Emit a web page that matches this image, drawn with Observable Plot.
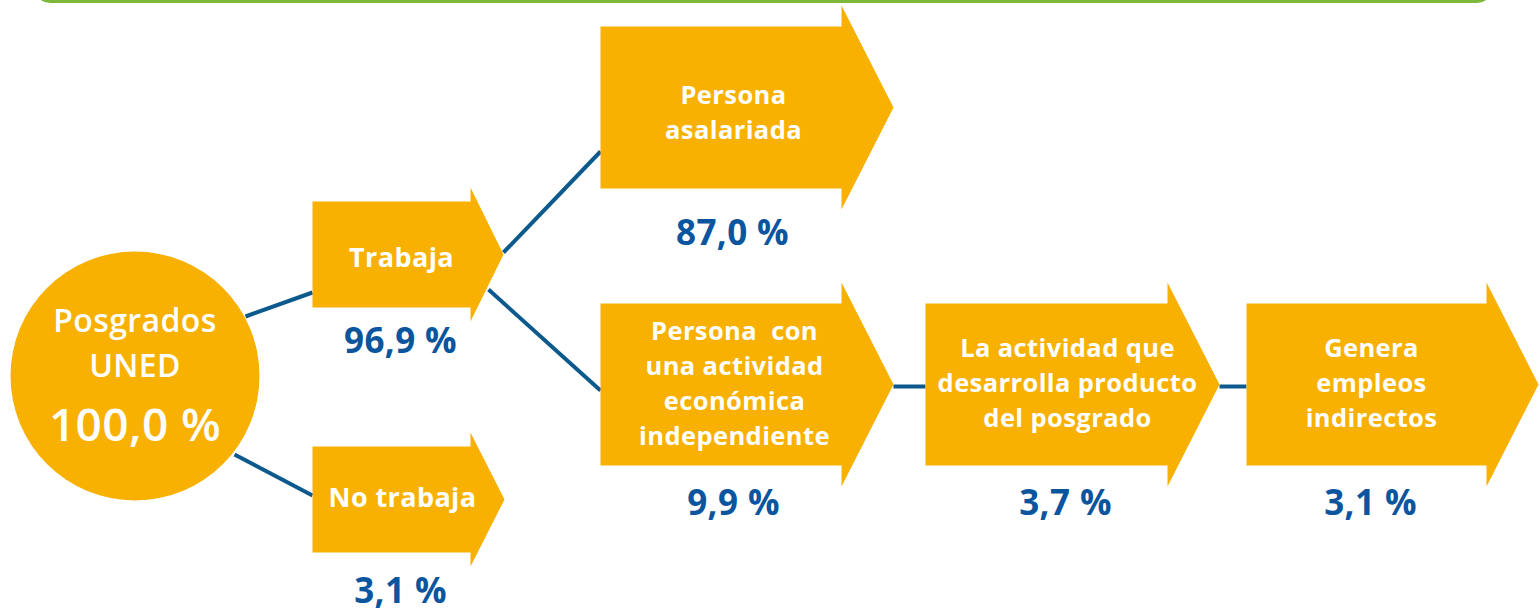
<!DOCTYPE html>
<html>
<head>
<meta charset="utf-8">
<script src="https://cdn.jsdelivr.net/npm/d3@7"></script>
<script src="https://cdn.jsdelivr.net/npm/@observablehq/plot@0.6"></script>
<style>
  html, body { margin: 0; padding: 0; background: #ffffff; }
  #chart svg { display: block; }
</style>
</head>
<body>
<div id="chart"></div>
<script>
// ---- Data ----
const nodeIds = ["total", "trabaja", "noTrabaja", "asalariada", "independiente", "producto", "empleos"];
const nodeLabels = [
  "Posgrados\nUNED",
  "Trabaja",
  "No trabaja",
  "Persona\nasalariada",
  "Persona  con\nuna actividad\neconómica\nindependiente",
  "La actividad que\ndesarrolla producto\ndel posgrado",
  "Genera\nempleos\nindirectos"
];
const nodeValues = [100.0, 96.9, 3.1, 87.0, 9.9, 3.7, 3.1];
const linkSources = ["total", "total", "trabaja", "trabaja", "independiente", "producto"];
const linkTargets = ["trabaja", "noTrabaja", "asalariada", "independiente", "producto", "empleos"];

// ---- Layout (pixel coordinates of the diagram) ----
const circleLayout = {cx: 134.5, cy: 375.5, r: 124.5, labelY: 340, valueY: 426};
const boxLayout = {
  trabaja:       {x0: 312, x1: 470, y0: 201, y1: 307, flare: 14, tip: 503, tx: 401, ty: 258, vx: 400, vy: 341},
  noTrabaja:     {x0: 312, x1: 470, y0: 446, y1: 552, flare: 14, tip: 504, tx: 402, ty: 498, vx: 400, vy: 591},
  asalariada:    {x0: 600, x1: 841, y0: 26,  y1: 188, flare: 21, tip: 893, tx: 733, ty: 110, vx: 732, vy: 233},
  independiente: {x0: 600, x1: 841, y0: 303, y1: 465, flare: 21, tip: 893, tx: 734, ty: 381, vx: 733, vy: 503},
  producto:      {x0: 925, x1: 1167, y0: 303, y1: 465, flare: 21, tip: 1219, tx: 1067, ty: 380, vx: 1065, vy: 503},
  empleos:       {x0: 1246, x1: 1486, y0: 303, y1: 465, flare: 21, tip: 1538, tx: 1371, ty: 380, vx: 1370, vy: 503}
};
const linkLayout = [
  {x1: 245, y1: 316, x2: 312, y2: 292},
  {x1: 234, y1: 454, x2: 312, y2: 495},
  {x1: 503, y1: 252, x2: 600, y2: 151},
  {x1: 488, y1: 289, x2: 600, y2: 390},
  {x1: 893, y1: 386, x2: 925, y2: 386},
  {x1: 1219, y1: 386, x2: 1246, y2: 386}
];

const ORANGE = "#F8B100";
const BLUE_TEXT = "#0A559E";
const BLUE_LINE = "#0C5A8D";
const GREEN = "#7DB83A";
const FONT = "'Open Sans', 'Noto Sans', sans-serif";

const fmt = v => v.toFixed(1).replace(".", ",") + " %";

// Build mark tables from the data
const boxes = nodeIds.slice(1).map((id, i) => ({id, label: nodeLabels[i + 1], value: nodeValues[i + 1], ...boxLayout[id]}));
const polygons = boxes.flatMap(b => {
  const yc = (b.y0 + b.y1) / 2;
  return [
    [b.x0, b.y0], [b.x1, b.y0], [b.x1, b.y0 - b.flare], [b.tip, yc],
    [b.x1, b.y1 + b.flare], [b.x1, b.y1], [b.x0, b.y1], [b.x0, b.y0]
  ].map(([x, y]) => ({id: b.id, x, y}));
});
const links = linkSources.map((s, i) => ({source: s, target: linkTargets[i], ...linkLayout[i]}));
const center = [{label: nodeLabels[0], value: nodeValues[0], ...circleLayout}];
const smallBoxes = boxes.filter(b => b.id === "trabaja" || b.id === "noTrabaja");
const bigBoxes = boxes.filter(b => !(b.id === "trabaja" || b.id === "noTrabaja"));

const chart = Plot.plot({
  width: 1540,
  height: 610,
  margin: 0,
  x: {domain: [0, 1540], range: [0, 1540], axis: null},
  y: {domain: [0, 610], range: [0, 610], axis: null},
  style: {fontFamily: FONT, background: "#ffffff", overflow: "visible", letterSpacing: "0.4px"},
  marks: [
    // green frame edge at the top
    Plot.rect([0], {x1: () => 36, x2: () => 1491, y1: () => -40, y2: () => 1.2, fill: "none", stroke: GREEN, strokeWidth: 3.6, rx: 14}),
    // connectors
    Plot.link(links, {x1: "x1", y1: "y1", x2: "x2", y2: "y2", stroke: BLUE_LINE, strokeWidth: 4}),
    // arrow boxes
    Plot.line(polygons, {x: "x", y: "y", z: "id", fill: ORANGE, stroke: "none", curve: "linear"}),
    // circle
    Plot.dot(center, {x: "cx", y: "cy", r: "r", fill: ORANGE, stroke: "none"}),
    // circle labels
    Plot.text(center, {x: "cx", y: "labelY", text: "label", fill: "white", fontSize: 32, fontWeight: 600, lineHeight: 1.4, lineAnchor: "middle"}),
    Plot.text(center, {x: "cx", y: "valueY", text: d => fmt(d.value), fill: "white", fontSize: 46, fontWeight: 600, lineAnchor: "middle"}),
    // box labels
    Plot.text(smallBoxes, {x: "tx", y: "ty", text: "label", fill: "white", fontSize: 27, fontWeight: 700, lineAnchor: "middle"}),
    Plot.text(bigBoxes, {x: "tx", y: "ty", text: "label", fill: "white", fontSize: 25.5, fontWeight: 700, lineHeight: 1.37, lineAnchor: "middle"}),
    // values
    Plot.text(boxes, {x: "vx", y: "vy", text: d => fmt(d.value), fill: BLUE_TEXT, fontSize: 35, fontWeight: 700, lineAnchor: "middle"})
  ]
});
// plain pixel radius for the circle
d3.select(chart).selectAll("circle").attr("r", circleLayout.r);
document.getElementById("chart").appendChild(chart);
</script>
</body>
</html>
